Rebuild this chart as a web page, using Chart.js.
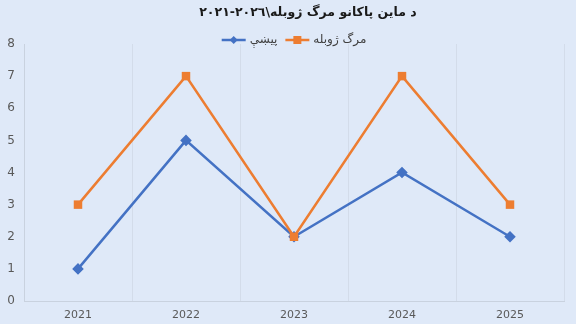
<!DOCTYPE html>
<html>
<head>
<meta charset="utf-8">
<script src="https://cdn.jsdelivr.net/npm/chart.js@4.4.0/dist/chart.umd.min.js"></script>
<style>
  html, body { margin: 0; padding: 0; background: #dfe9f8; }
  #wrap { width: 576px; height: 324px; }
</style>
</head>
<body>
<div id="wrap"><canvas id="chart"></canvas></div>
<script>
const years = ['2021', '2022', '2023', '2024', '2025'];
const incidents = [1, 5, 2, 4, 2];
const casualties = [3, 7, 2, 7, 3];
const yTicks = [0, 1, 2, 3, 4, 5, 6, 7, 8];
const chartTitle = 'د ماین پاکانو مرگ ژوبله\\۲۰۲٦-۲۰۲۱';

const blue = '#4472c4';
const orange = '#ed7d31';
const bg = '#dfe9f8';

const bgPlugin = {
    id: 'bg',
    beforeDraw: (chart) => {
        const ctx = chart.ctx;
        ctx.save();
        ctx.fillStyle = bg;
        ctx.fillRect(0, 0, chart.width, chart.height);
        ctx.restore();
    }
};

// title and legend drawn by hand: the title sits a bit right of centre
const header = {
    id: 'header',
    afterDraw: (chart) => {
        const ctx = chart.ctx;
        ctx.save();
        ctx.direction = 'rtl';
        ctx.font = 'bold 12.5px "DejaVu Sans"';
        ctx.fillStyle = '#1a1a1a';
        ctx.textAlign = 'center';
        ctx.textBaseline = 'middle';
        ctx.fillText(chartTitle, 308, 13);

        // legend: line + marker, then the label
        ctx.direction = 'ltr';
        const y = 40;
        ctx.font = '12px "DejaVu Sans"';
        const items = chart.data.datasets.map(ds => ({
            ds: ds,
            w: 24 + 4 + ctx.measureText(ds.label).width
        }));
        const gap = 8;
        let total = items.reduce((s, it) => s + it.w, 0) + gap * (items.length - 1);
        let x = (chart.width - total) / 2 + 6;
        items.forEach(it => {
            const c = it.ds.borderColor;
            ctx.strokeStyle = c;
            ctx.fillStyle = c;
            ctx.lineWidth = 2.5;
            ctx.beginPath();
            ctx.moveTo(x, y);
            ctx.lineTo(x + 24, y);
            ctx.stroke();
            ctx.beginPath();
            if (it.ds.pointStyle === 'rectRot') {
                ctx.moveTo(x + 12, y - 4); ctx.lineTo(x + 16, y);
                ctx.lineTo(x + 12, y + 4); ctx.lineTo(x + 8, y);
            } else {
                ctx.rect(x + 8, y - 4, 8, 8);
            }
            ctx.fill();
            ctx.fillStyle = '#404040';
            ctx.textAlign = 'left';
            ctx.fillText(it.ds.label, x + 28, y);
            x += it.w + gap;
        });
        ctx.restore();
    }
};

new Chart(document.getElementById('chart'), {
    type: 'line',
    data: {
        labels: years,
        datasets: [{
            label: 'پیښې',
            data: incidents,
            borderColor: blue,
            backgroundColor: blue,
            borderWidth: 2.5,
            pointStyle: 'rectRot',
            pointRadius: 4,
            pointHoverRadius: 4,
            order: 2
        }, {
            label: 'مرگ ژوبله',
            data: casualties,
            borderColor: orange,
            backgroundColor: orange,
            borderWidth: 2.5,
            pointStyle: 'rect',
            pointRadius: 6,
            pointBorderWidth: 0,
            pointHoverRadius: 6,
            order: 1
        }]
    },
    options: {
        responsive: true,
        maintainAspectRatio: false,
        animation: false,
        layout: { padding: { left: 2, right: 12, top: 44, bottom: 0 } },
        plugins: {
            title: { display: false },
            legend: { display: false },
            tooltip: { enabled: false }
        },
        scales: {
            x: {
                offset: true,
                grid: { display: true, offset: true, color: '#d3dcea', drawTicks: false },
                border: { color: '#c9d2df' },
                ticks: {
                    color: '#595959',
                    font: { family: 'DejaVu Sans', size: 11 },
                    padding: 8
                },
                afterFit: (scale) => { scale.height = 23; }
            },
            y: {
                min: 0,
                max: 8,
                afterBuildTicks: (scale) => {
                    scale.ticks = yTicks.map(v => ({ value: v }));
                },
                afterFit: (scale) => { scale.width = 22; },
                grid: { display: false, drawTicks: false },
                border: { color: '#c9d2df' },
                ticks: {
                    color: '#595959',
                    font: { family: 'DejaVu Sans', size: 12 },
                    padding: 9
                }
            }
        }
    },
    plugins: [bgPlugin, header]
});
</script>
</body>
</html>
